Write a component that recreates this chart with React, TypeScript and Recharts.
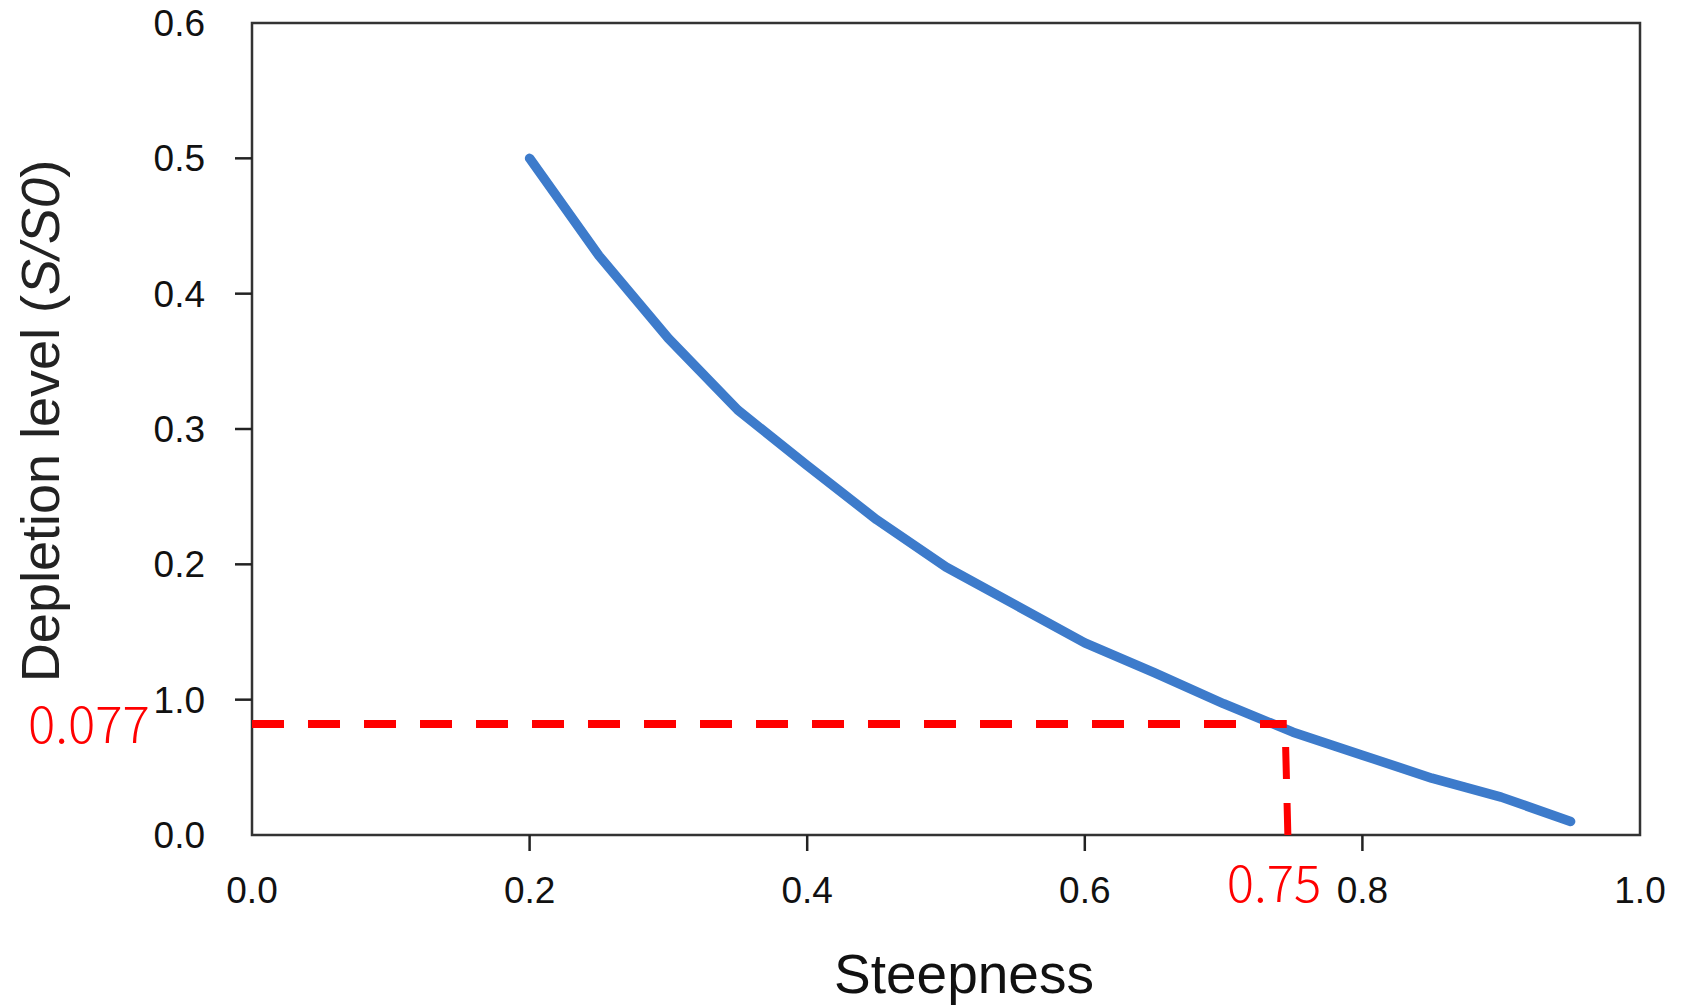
import React from 'react';
import { LineChart, Line, XAxis, YAxis, ReferenceLine, ReferenceArea } from 'recharts';

const steepness = [0.2, 0.25, 0.3, 0.35, 0.4, 0.45, 0.5, 0.55, 0.6, 0.65, 0.7, 0.75, 0.8, 0.85, 0.9, 0.95];
const depletion = [0.5, 0.428, 0.367, 0.314, 0.273, 0.233, 0.198, 0.17, 0.142, 0.12, 0.097, 0.076, 0.059, 0.042, 0.028, 0.01];

const xTicks = [0, 0.2, 0.4, 0.6, 0.8, 1.0];
const xTickLabels = ['0.0', '0.2', '0.4', '0.6', '0.8', '1.0'];
const yTicks = [0, 0.1, 0.2, 0.3, 0.4, 0.5, 0.6];
const yTickLabels = ['0.0', '1.0', '0.2', '0.3', '0.4', '0.5', '0.6'];

// red annotation: level read at steepness 0.75
const markLevel = 0.082;
const markSteep = 0.7455;
const markDropTop = 0.065;
const markLevelText = '0.077';
const markSteepText = '0.75';

const data = steepness.map((x, i) => ({ x, y: depletion[i] }));

const font = '"Liberation Sans", Arial, sans-serif';
const cjk = '"Noto Sans CJK SC", "Noto Sans", sans-serif';

const XTick = (props: any) => {
  const { x, y, payload } = props;
  const v = payload.value;
  const i = xTicks.indexOf(v);
  return (
    <g>
      {v > 0 && v < 1 && <line x1={x} y1={y} x2={x} y2={y + 16} stroke="#222" strokeWidth={2.5} />}
      <text x={x} y={y + 68} textAnchor="middle" fontSize={37} fill="#111" fontFamily={font}>
        {xTickLabels[i]}
      </text>
    </g>
  );
};

const YTick = (props: any) => {
  const { x, y, payload } = props;
  const v = payload.value;
  const i = yTicks.indexOf(v);
  return (
    <g>
      {v > 0 && v < 0.6 && <line x1={x} y1={y} x2={x - 17} y2={y} stroke="#222" strokeWidth={2.5} />}
      <text x={x - 47} y={y + 13} textAnchor="end" fontSize={37} fill="#111" fontFamily={font}>
        {yTickLabels[i]}
      </text>
    </g>
  );
};

export default function App() {
  return (
    <div style={{ position: 'absolute', left: 0, top: 0, width: 1689, height: 1006, overflow: 'hidden', background: '#fff' }}>
      <LineChart width={1689} height={1006} data={data} margin={{ top: 23, right: 49, bottom: 0, left: 0 }}>
        <XAxis
          type="number"
          dataKey="x"
          domain={[0, 1]}
          ticks={xTicks}
          interval={0}
          tickSize={0}
          tickMargin={0}
          axisLine={false}
          tick={<XTick />}
          height={171}
          label={({ viewBox }: any) => (
            <text
              x={viewBox.x + viewBox.width / 2 + 18}
              y={viewBox.y + 158}
              textAnchor="middle"
              fontSize={55}
              fill="#111"
              fontFamily={font}
            >
              Steepness
            </text>
          )}
        />
        <YAxis
          type="number"
          domain={[0, 0.6]}
          ticks={yTicks}
          interval={0}
          tickSize={0}
          tickMargin={0}
          axisLine={false}
          tick={<YTick />}
          width={252}
          label={({ viewBox }: any) => {
            const cx = 59;
            const cy = viewBox.y + viewBox.height / 2 - 8;
            return (
              <text
                x={cx}
                y={cy}
                transform={`rotate(-90, ${cx}, ${cy})`}
                textAnchor="middle"
                fontSize={54}
                fill="#222"
                fontFamily={font}
              >
                Depletion level (<tspan fontStyle="italic">S/S0</tspan>)
              </text>
            );
          }}
        />
        <ReferenceArea x1={0} x2={1} y1={0} y2={0.6} fill="none" fillOpacity={0} stroke="#333" strokeWidth={2.5} />
        <Line
          type="linear"
          dataKey="y"
          stroke="#3d7bcb"
          strokeWidth={9.5}
          strokeLinecap="round"
          strokeLinejoin="round"
          dot={false}
          activeDot={false}
          isAnimationActive={false}
        />
        <ReferenceLine
          segment={[{ x: 0, y: markLevel }, { x: markSteep, y: markLevel }]}
          stroke="#ff0000"
          strokeWidth={8}
          strokeDasharray="32 24"
          label={({ viewBox }: any) => (
            <text x={viewBox.x - 224} y={viewBox.y + 19} fontSize={51} fontWeight={300} fill="#ff0000" fontFamily={cjk}>
              {markLevelText}
            </text>
          )}
        />
        <ReferenceLine
          segment={[{ x: markSteep - 0.0008, y: markDropTop }, { x: markSteep + 0.0008, y: 0 }]}
          stroke="#ff0000"
          strokeWidth={7}
          strokeDasharray="32 24"
          label={({ viewBox }: any) => (
            <text x={viewBox.x - 59} y={viewBox.y + viewBox.height + 67} fontSize={51} fontWeight={300} fill="#ff0000" fontFamily={cjk}>
              {markSteepText}
            </text>
          )}
        />
      </LineChart>
    </div>
  );
}
